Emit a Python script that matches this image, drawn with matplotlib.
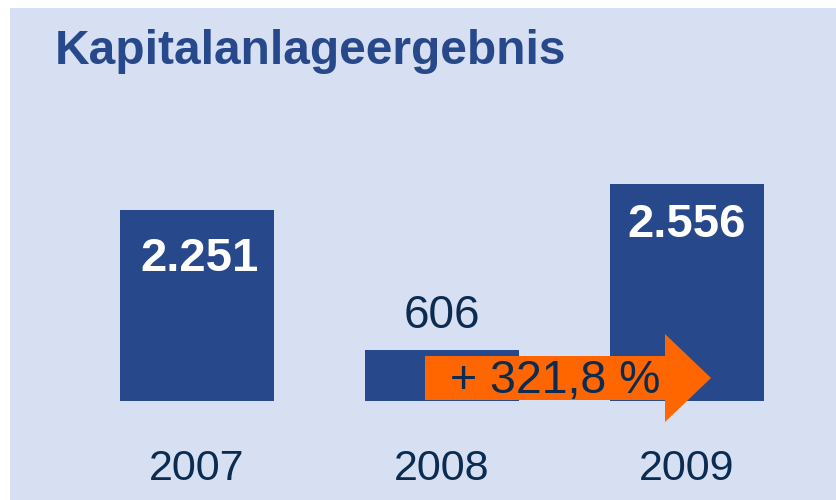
import matplotlib.pyplot as plt
from matplotlib.patches import Rectangle, Polygon

plt.rcParams["font.family"] = ["Liberation Sans", "DejaVu Sans"]

# Data
years = ["2007", "2008", "2009"]
values = [2251, 606, 2556]
value_labels = ["2.251", "606", "2.556"]
change_label = "+ 321,8 %"
title = "Kapitalanlageergebnis"

# Colours
bg_color = "#D6E0F2"
bar_color = "#27488A"
dark_text = "#0B2B50"
orange = "#FF6600"

W, H = 836, 500
fig = plt.figure(figsize=(W / 100, H / 100), dpi=100)
fig.patch.set_facecolor("white")

# light blue panel
fig.patches.append(Rectangle((10 / W, 0), 1 - 10 / W, 1 - 8 / H,
                             transform=fig.transFigure, facecolor=bg_color,
                             edgecolor="none", zorder=-5))

ax = fig.add_axes([0, 0, 1, 1])
ax.set_facecolor("none")
ax.axis("off")

# pixel-based axis limits: category 0 at x=197 px, 245 px apart; baseline at y=401 px
px_x = 245.0
px_y = 0.0849  # pixels per unit
base_px = 99.0  # baseline from bottom
ax.set_xlim(-197 / px_x, (W - 197) / px_x)
ax.set_ylim(-base_px / px_y, (H - base_px) / px_y)

x = range(len(years))
ax.bar(x, values, width=154 / px_x, color=bar_color, zorder=2)

# value labels
u = 1 / px_y  # data units per pixel
ax.text(0.01, values[0] - 49 * u, value_labels[0], ha="center", va="center",
        color="white", fontsize=34, fontweight="bold", zorder=5)
ax.text(1, values[1] + 34 * u, value_labels[1], ha="center", va="center",
        color=dark_text, fontsize=33, zorder=5)
ax.text(2, values[2] - 41 * u, value_labels[2], ha="center", va="center",
        color="white", fontsize=34, fontweight="bold", zorder=5)

# year labels
for i, yr in enumerate(years):
    ax.text(i, -68 * u, yr, ha="center", va="center", color=dark_text,
            fontsize=31, zorder=5)

# growth arrow
x0 = (425 - 197) / px_x
xh = (665 - 197) / px_x
xt = (711 - 197) / px_x
yc = 23 * u
hb = 22 * u  # half body
hh = 44 * u  # half head
arrow = Polygon([(x0, yc - hb), (xh, yc - hb), (xh, yc - hh), (xt, yc),
                 (xh, yc + hh), (xh, yc + hb), (x0, yc + hb)],
                closed=True, facecolor=orange, edgecolor="none", zorder=3)
ax.add_patch(arrow)
ax.text((x0 + xh) / 2 + 0.04, yc - 3 * u, change_label, ha="center", va="center",
        color=dark_text, fontsize=33.5, zorder=6)

fig.text(55 / W, 1 - 52 / H, title, ha="left", va="center", color=bar_color,
         fontsize=34.5, fontweight="bold")

fig.savefig("out.png", dpi=100)
